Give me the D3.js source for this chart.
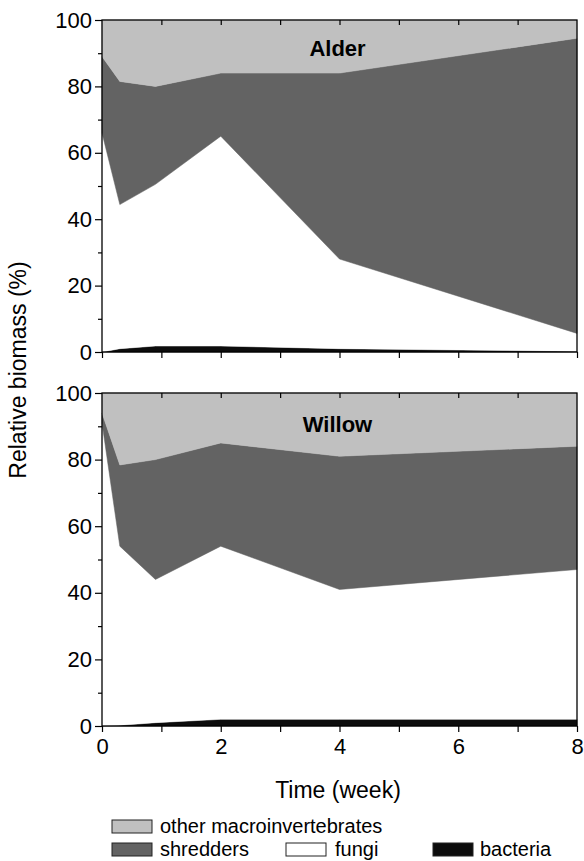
<!DOCTYPE html>
<html>
<head>
<meta charset="utf-8">
<script src="https://cdn.jsdelivr.net/npm/d3@7"></script>
<style>
  body { margin: 0; background: #fff; }
  svg text { font-family: "Liberation Sans", Arial, sans-serif; fill: #000; }
</style>
</head>
<body>
<script>
// sampling times (week)
var weeks = [0, 0.3, 0.9, 2, 4, 8];

// Alder, % of total biomass
var alderBacteria  = [0, 1, 1.8, 1.8, 1, 0.2];
var alderFungi     = [66, 43.4, 48.7, 63.2, 27, 5.4];
var alderShredders = [23, 37.1, 29.5, 19, 56, 88.9];
var alderOther     = [11, 18.5, 20, 16, 16, 5.5];

// Willow, % of total biomass
var willowBacteria  = [0, 0.2, 1, 2, 2, 2];
var willowFungi     = [91, 53.8, 43, 52, 39, 45];
var willowShredders = [3, 24.4, 36, 31, 40, 37];
var willowOther     = [6, 21.6, 20, 15, 19, 16];

var keys = ["bacteria", "fungi", "shredders", "other"];
var xTicks = [0, 2, 4, 6, 8];
var yTicks = [0, 20, 40, 60, 80, 100];

var fills = {
  other: "#c0c0c0",
  shredders: "#636363",
  fungi: "#ffffff",
  bacteria: "#0c0c0c"
};

function rows(b, f, s, o) {
  return weeks.map(function(w, i) {
    return {week: w, bacteria: b[i], fungi: f[i], shredders: s[i], other: o[i]};
  });
}

var panels = [
  {name: "Alder", data: rows(alderBacteria, alderFungi, alderShredders, alderOther), top: 20, bottom: 352, labelY: 56},
  {name: "Willow", data: rows(willowBacteria, willowFungi, willowShredders, willowOther), top: 393, bottom: 726, labelY: 432}
];

var width = 584, height = 861;
var left = 102, right = 577;

var svg = d3.select("body").append("svg")
  .attr("width", width)
  .attr("height", height);

var x = d3.scaleLinear().domain([0, 8]).range([left, right]);
var stack = d3.stack().keys(keys);

panels.forEach(function(p, pi) {
  var y = d3.scaleLinear().domain([0, 100]).range([p.bottom, p.top]);
  var series = stack(p.data);

  var area = d3.area()
    .x(function(d) { return x(d.data.week); })
    .y0(function(d) { return y(d[0]); })
    .y1(function(d) { return y(d[1]); });

  svg.append("g").selectAll("path")
    .data(series)
    .enter().append("path")
    .attr("fill", function(d) { return fills[d.key]; })
    .attr("stroke", function(d) { return fills[d.key]; })
    .attr("stroke-width", 0.5)
    .attr("d", area);

  // frame
  svg.append("rect")
    .attr("x", left).attr("y", p.top)
    .attr("width", right - left).attr("height", p.bottom - p.top)
    .attr("fill", "none").attr("stroke", "#000").attr("stroke-width", 1.3);

  // left axis
  var yAxis = svg.append("g")
    .attr("transform", "translate(" + left + ",0)")
    .call(d3.axisLeft(y).tickValues(yTicks).tickSize(7).tickPadding(3));
  yAxis.select(".domain").remove();
  yAxis.selectAll("text").style("font-size", "22px");

  svg.append("g")
    .attr("transform", "translate(" + left + ",0)")
    .call(d3.axisLeft(y).tickValues([10, 30, 50, 70, 90]).tickSize(4).tickFormat(""))
    .select(".domain").remove();

  // bottom ticks, every week
  var xAxis = svg.append("g")
    .attr("transform", "translate(0," + p.bottom + ")")
    .call(d3.axisBottom(x).tickValues(d3.range(0, 9)).tickSize(6).tickPadding(6)
      .tickFormat(function(d) { return pi === 1 && xTicks.indexOf(d) >= 0 ? d : ""; }));
  xAxis.select(".domain").remove();
  xAxis.selectAll("text").style("font-size", "22px");

  // top ticks, inward
  svg.append("g")
    .attr("transform", "translate(0," + p.top + ")")
    .call(d3.axisTop(x).tickValues(d3.range(1, 8)).tickSize(-5).tickFormat(""))
    .select(".domain").remove();

  svg.append("text")
    .attr("x", x(4) - 2).attr("y", p.labelY)
    .attr("text-anchor", "middle")
    .style("font-size", "22px").style("font-weight", "bold")
    .text(p.name);
});

svg.selectAll(".tick line").attr("stroke", "#000").attr("stroke-width", 1.2);

// axis titles
svg.append("text")
  .attr("transform", "translate(26,370) rotate(-90)")
  .attr("text-anchor", "middle")
  .style("font-size", "23px")
  .text("Relative biomass (%)");

svg.append("text")
  .attr("x", 338).attr("y", 798)
  .attr("text-anchor", "middle")
  .style("font-size", "23px")
  .text("Time (week)");

// legend
var legendItems = [
  {key: "other", label: "other macroinvertebrates", x: 112, y: 820, tx: 48},
  {key: "shredders", label: "shredders", x: 112, y: 843, tx: 48},
  {key: "fungi", label: "fungi", x: 286, y: 843, tx: 49},
  {key: "bacteria", label: "bacteria", x: 433, y: 843, tx: 47}
];

var legend = svg.append("g").selectAll("g")
  .data(legendItems)
  .enter().append("g")
  .attr("transform", function(d) { return "translate(" + d.x + "," + d.y + ")"; });

legend.append("rect")
  .attr("width", 40).attr("height", 13)
  .attr("fill", function(d) { return fills[d.key]; })
  .attr("stroke", "#222").attr("stroke-width", 1);

legend.append("text")
  .attr("x", function(d) { return d.tx; })
  .attr("y", 13)
  .style("font-size", "20px")
  .text(function(d) { return d.label; });
</script>
</body>
</html>
